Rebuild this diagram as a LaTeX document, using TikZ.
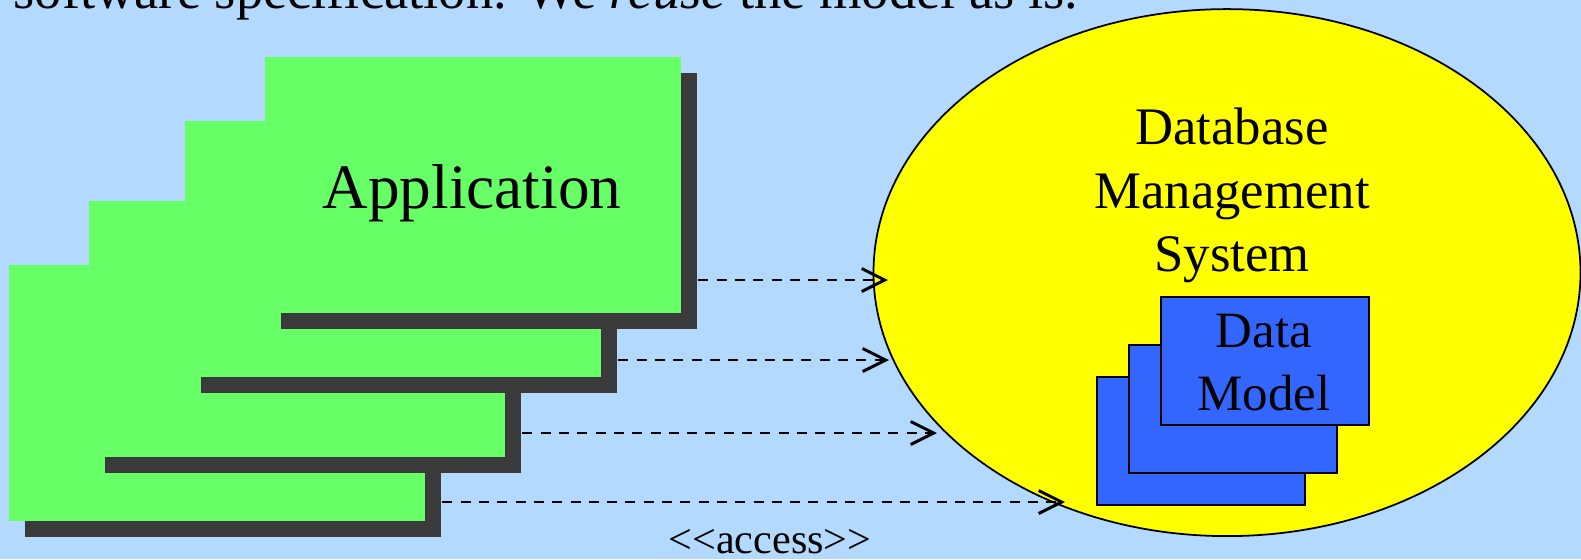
\documentclass[tikz,border=0pt]{standalone}
\usepackage{fontspec}
\setmainfont{Liberation Serif}
\usepackage{xcolor}
\usepackage{tikz}
\usetikzlibrary{shapes.geometric,arrows.meta,calc,shadows}
\definecolor{SkyBack}{HTML}{B3D9FF}
\definecolor{AppGreen}{HTML}{66FF66}
\definecolor{ShadowGray}{HTML}{3A3A3A}
\definecolor{DbYellow}{HTML}{FFFF00}
\definecolor{ModelBlue}{HTML}{3366FF}
\tikzset{
  AB/.style={rectangle,anchor=north west,inner sep=0pt,
             minimum width=41.6mm,minimum height=25.6mm,fill=AppGreen,
             drop shadow={shadow xshift=1.6mm,shadow yshift=-1.6mm,
                          opacity=1,fill=ShadowGray}},
  DM/.style={rectangle,anchor=north west,inner sep=0pt,
             minimum width=20.8mm,minimum height=12.8mm,
             draw,line width=0.5pt,fill=ModelBlue},
  DB/.style={ellipse,inner sep=0pt,minimum width=70.7mm,minimum height=52.7mm,
             draw,line width=0.5pt,fill=DbYellow},
  arr/.style={-{Straight Barb[length=2.3mm,width=2.3mm,line width=0.85pt]},line width=0.75pt,
              dash pattern=on 1mm off 0.83mm},
  TX/.style={inner sep=0pt,anchor=base,align=center}
}

\begin{document}
\begin{tikzpicture}[x=0.1mm,y=-0.1mm]
  \clip (0,0) rectangle (1581,559);
  \fill[SkyBack] (0,0) rectangle (1581,559);

  \node[TX,anchor=base west,font=\fontsize{15.5}{18.6}\selectfont] (topline) at (13,8)
    {software specification. We \emph{reuse} the model as is.};

  \node[AB] (app4) at (8,264) {};
  \node[AB] (app3) at (88,200) {};
  \node[AB] (app2) at (184,120) {};
  \node[AB] (app1) at (264,56) {};
  \node[TX,font=\fontsize{18}{21.6}\selectfont] (apptxt) at (472,208) {Application};

  \node[DB] (dbms) at (1227,272.6) {};
  \node[TX,font=\fontsize{15}{18.1}\selectfont] (dbtxt) at (1232,271.7)
    {Database\\Management\\System};

  \node[DM] (dm3) at (1096,376) {};
  \node[DM] (dm2) at (1128,344) {};
  \node[DM] (dm1) at (1160,296) {};
  \node[TX,font=\fontsize{14.5}{17.9}\selectfont] (dmtxt) at (1264,410) {Data\\Model};

  \coordinate (t1) at (888,280);
  \coordinate (t2) at (889,360);
  \coordinate (t3) at (937,433);
  \coordinate (t4) at (1065,502);
  \draw[arr] ($(app1.east |- t1)+(17,0)$) -- (t1);
  \draw[arr] ($(app2.east |- t2)+(17,0)$) -- (t2);
  \draw[arr] ($(app3.east |- t3)+(17,0)$) -- (t3);
  \draw[arr] ($(app4.east |- t4)+(17,0)$) -- (t4);

  \node[TX,font=\fontsize{12}{14.4}\selectfont] (acc) at (770,553) {<\kern0pt<access>\kern0pt>};
\end{tikzpicture}
\end{document}
